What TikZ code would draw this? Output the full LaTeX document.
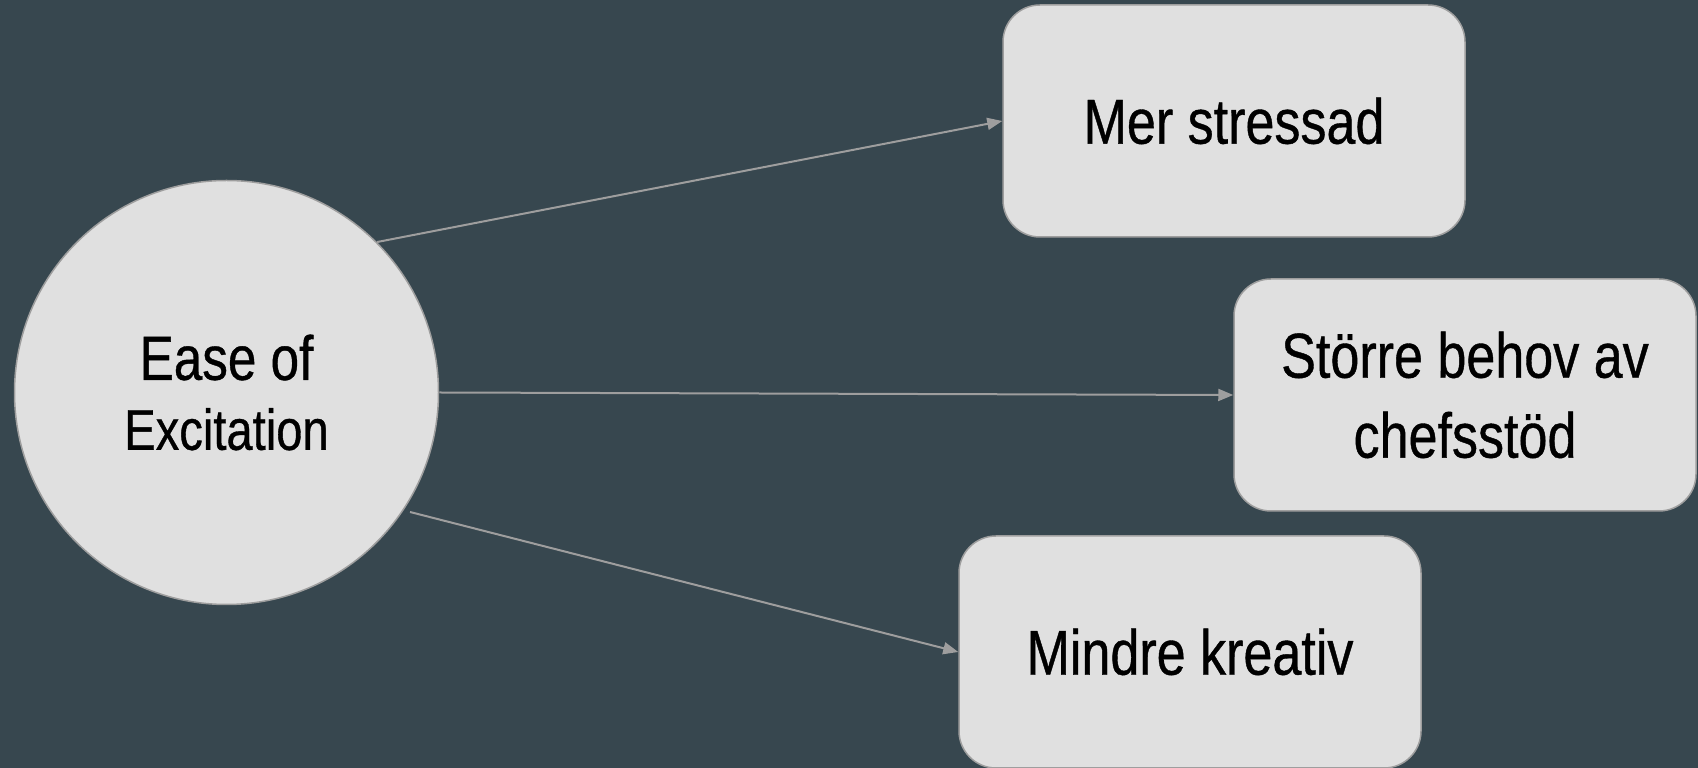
\documentclass[tikz,border=0pt]{standalone}
\usepackage{fontspec}
\setmainfont{Liberation Sans}[FakeStretch=0.82,FakeBold=0.6]
\usetikzlibrary{arrows.meta}
\definecolor{bgcol}{HTML}{37474F}
\definecolor{shapefill}{HTML}{E0E0E0}
\definecolor{shapeline}{HTML}{9E9E9E}
\definecolor{arrowcol}{HTML}{9E9E9E}
\tikzset{
  effect/.style={draw=shapeline, fill=shapefill, line width=1.5pt, rounded corners=37pt,
    minimum width=462pt, minimum height=232pt, inner sep=0pt, align=center, text=black,
    font=\fontsize{63.5}{80}\selectfont},
  cause/.style={draw=shapeline, fill=shapefill, line width=1.5pt, circle,
    minimum size=424pt, inner sep=0pt, align=center, text=black,
    font=\fontsize{62.5}{70}\selectfont},
  link/.style={draw=arrowcol, line width=2pt, -{Triangle[length=15pt,width=12pt]}}
}
\begin{document}
\begin{tikzpicture}[x=1pt,y=1pt]
\useasboundingbox (0,0) rectangle (1698,768);
\fill[bgcol] (0,0) rectangle (1698,768);
\node[cause] (c) at (226.5,375.5) {Ease of\\{\fontsize{57.5}{57.5}\selectfont Excitation}};
\node[effect] (mer) at (1234,647) {Mer stressad};
\node[effect] (sto) at (1465,373) {Större behov av\\chefsstöd};
\node[effect] (min) at (1190,116) {Mindre kreativ};
\coordinate (s3) at (410,256);
\draw[link] (c.45) -- (mer.west);
\draw[link] (c.east) -- (sto.west);
\draw[link] (s3) -- (min.west);
\end{tikzpicture}
\end{document}
